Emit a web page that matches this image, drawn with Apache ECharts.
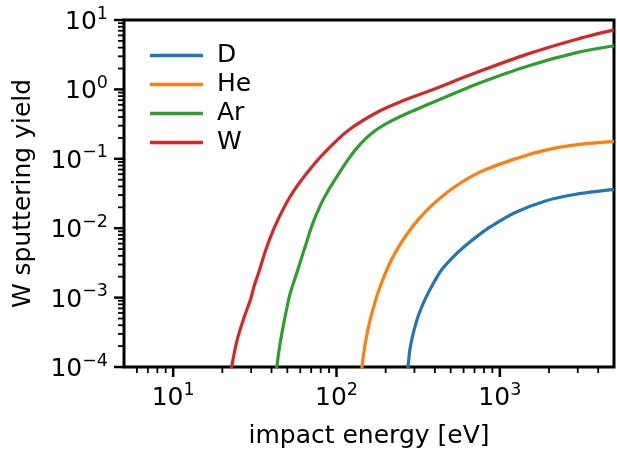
<!DOCTYPE html>
<html>
<head>
<meta charset="utf-8">
<script src="https://cdn.jsdelivr.net/npm/echarts@6/dist/echarts.min.js"></script>
<style>
  html, body { margin: 0; padding: 0; background: #fff; }
  #main { width: 617px; height: 454px; }
</style>
</head>
<body>
<div id="main"></div>
<script>
// impact energy [eV] vs W sputtering yield
const seriesNames = ['D', 'He', 'Ar', 'W'];
const colors = ['#1f77b4', '#ff7f0e', '#2ca02c', '#d62728'];

const dYield = [
  [270, 7e-5], [274, 1.0e-4], [281.8, 1.82e-4], [296, 3.15e-4], [317.6, 5.58e-4], [349, 9.5e-4],
  [392, 1.61e-3], [440.5, 2.52e-3], [519, 3.87e-3], [612, 5.53e-3], [738, 7.88e-3],
  [889, 0.0107], [1234, 0.0167], [1881, 0.0245], [2867, 0.0306], [5000, 0.0362]
];
const heYield = [
  [141, 7e-5], [143.2, 1.0e-4], [149.8, 2.14e-4], [161.2, 4.9e-4], [185.5, 1.47e-3], [229, 4.45e-3],
  [317.5, 0.0134], [473, 0.0324], [738, 0.0627], [1293, 0.103], [1970, 0.1355], [3002, 0.160], [5000, 0.178]
];
const arYield = [
  [42.6, 7e-5], [43.1, 1.0e-4], [45.1, 2.14e-4], [47.7, 4.43e-4], [51.9, 1.12e-3], [57.3, 2.32e-3],
  [64.1, 5.3e-3], [71.2, 0.01135], [80.2, 0.022], [89.8, 0.0361], [103.3, 0.0612], [118.9, 0.1007],
  [140.7, 0.165], [168.8, 0.245], [208.4, 0.335], [276, 0.461], [365, 0.611], [519, 0.865],
  [738, 1.22], [1488, 2.18], [3002, 3.41], [5000, 4.25]
];
const wYield = [
  [22.4, 7e-5], [22.8, 1.0e-4], [24.7, 2.5e-4], [27.2, 5.2e-4], [29.8, 9.5e-4], [31.3, 1.46e-3],
  [33.6, 2.4e-3], [36.5, 4.5e-3], [39.8, 7.9e-3], [44.5, 0.0143], [51.2, 0.0268],
  [58.9, 0.044], [72.7, 0.0826], [89.8, 0.142], [118.9, 0.26], [181, 0.48], [257, 0.69],
  [365, 0.939], [738, 1.79], [1488, 3.25], [3002, 5.33], [5000, 7.2]
];
const allYields = [dYield, heYield, arYield, wYield];

const xRange = [5, 5000];
const yRange = [1e-4, 10];
const xMajorTicks = [10, 100, 1000];
const xMinorTicks = [6, 7, 8, 9, 20, 30, 40, 50, 60, 70, 80, 90,
  200, 300, 400, 500, 600, 700, 800, 900, 2000, 3000, 4000];
const yMajorTicks = [1e-4, 1e-3, 1e-2, 1e-1, 1, 10];
const yMinorTicks = [
  2e-4, 3e-4, 4e-4, 5e-4, 6e-4, 7e-4, 8e-4, 9e-4,
  2e-3, 3e-3, 4e-3, 5e-3, 6e-3, 7e-3, 8e-3, 9e-3,
  2e-2, 3e-2, 4e-2, 5e-2, 6e-2, 7e-2, 8e-2, 9e-2,
  0.2, 0.3, 0.4, 0.5, 0.6, 0.7, 0.8, 0.9,
  2, 3, 4, 5, 6, 7, 8, 9
];

const FONT = "'DejaVu Sans', sans-serif";

function powLabel(v) {
  const e = Math.log10(v);
  const r = Math.round(e);
  if (Math.abs(e - r) > 1e-6) return '';
  const exp = r < 0 ? '\u2212' + (-r) : String(r);
  return '{b|10}{s|' + exp + '}';
}
const labelRich = {
  b: { fontSize: 25, fontFamily: FONT, color: '#000', lineHeight: 30, verticalAlign: 'bottom' },
  s: { fontSize: 17.5, fontFamily: FONT, color: '#000', lineHeight: 20, verticalAlign: 'top' }
};

function tickItem(major) {
  return { len: major ? 10 : 6, width: major ? 2.5 : 1.8 };
}

const xTickData = xMajorTicks.map(v => [v, yRange[0], 1]).concat(xMinorTicks.map(v => [v, yRange[0], 0]));
const yTickData = yMajorTicks.map(v => [xRange[0], v, 1]).concat(yMinorTicks.map(v => [xRange[0], v, 0]));

const chart = echarts.init(document.getElementById('main'), null, { renderer: 'canvas' });

const lineSeries = seriesNames.map((name, i) => ({
  name: name,
  type: 'line',
  data: allYields[i],
  showSymbol: false,
  symbol: 'none',
  smooth: 0.3,
  clip: true,
  lineStyle: { color: colors[i], width: 3.2 },
  itemStyle: { color: colors[i] },
  z: 2
}));

const option = {
  animation: false,
  backgroundColor: '#fff',
  grid: {
    left: 124, right: 2, top: 20, bottom: 86,
    show: true, borderColor: '#000', borderWidth: 3, backgroundColor: 'transparent'
  },
  legend: {
    data: seriesNames.map(n => ({ name: n, icon: 'rect' })),
    orient: 'vertical',
    left: 145, top: 36,
    itemWidth: 53, itemHeight: 3.5, itemGap: 0,
    textStyle: { fontSize: 25, fontFamily: FONT, color: '#000', lineHeight: 29, padding: [0, 0, 0, 9] }
  },
  xAxis: {
    type: 'log',
    logBase: 10,
    min: xRange[0], max: xRange[1],
    name: 'impact energy [eV]',
    nameLocation: 'middle',
    nameGap: 57,
    nameTextStyle: { fontSize: 25, fontFamily: FONT, color: '#000' },
    axisLine: { show: false },
    axisTick: { show: false },
    splitLine: { show: false },
    axisLabel: { margin: 14, formatter: powLabel, rich: labelRich }
  },
  yAxis: {
    type: 'log',
    logBase: 10,
    min: yRange[0], max: yRange[1],
    name: 'W sputtering yield',
    nameLocation: 'middle',
    nameGap: 88,
    nameTextStyle: { fontSize: 25, fontFamily: FONT, color: '#000' },
    axisLine: { show: false },
    axisTick: { show: false },
    splitLine: { show: false },
    axisLabel: { margin: 16, formatter: powLabel, rich: labelRich }
  },
  series: lineSeries.concat([
    {
      type: 'custom',
      name: 'xticks',
      silent: true,
      clip: false,
      z: 5,
      data: xTickData,
      encode: { x: 0, y: 1 },
      renderItem: function (params, api) {
        const p = api.coord([api.value(0), api.value(1)]);
        const t = tickItem(api.value(2));
        const y0 = params.coordSys.y + params.coordSys.height;
        return {
          type: 'line',
          shape: { x1: p[0], y1: y0, x2: p[0], y2: y0 + t.len },
          style: { stroke: '#000', lineWidth: t.width }
        };
      }
    },
    {
      type: 'custom',
      name: 'yticks',
      silent: true,
      clip: false,
      z: 5,
      data: yTickData,
      encode: { x: 0, y: 1 },
      renderItem: function (params, api) {
        const p = api.coord([api.value(0), api.value(1)]);
        const t = tickItem(api.value(2));
        const x0 = params.coordSys.x;
        return {
          type: 'line',
          shape: { x1: x0 - t.len, y1: p[1], x2: x0, y2: p[1] },
          style: { stroke: '#000', lineWidth: t.width }
        };
      }
    }
  ])
};

chart.setOption(option);
</script>
</body>
</html>
